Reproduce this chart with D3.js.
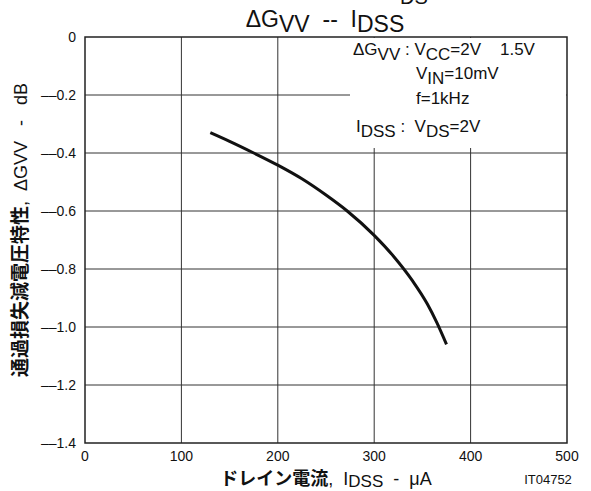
<!DOCTYPE html>
<html>
<head>
<meta charset="utf-8">
<script src="https://cdn.jsdelivr.net/npm/d3@7"></script>
<style>
  body { margin: 0; background: #fff; }
  svg text { font-family: "Liberation Sans", Arial, sans-serif; fill: #111; }
  .jp { font-family: "Noto Sans CJK JP", sans-serif; font-weight: 700; }
</style>
</head>
<body>
<svg id="chart" width="591" height="491"></svg>
<script>
// data
let idss = [130, 150, 175, 200, 225, 250, 272, 300, 320, 340, 355, 365, 375]
let dGvv = [-0.33, -0.36, -0.40, -0.442, -0.489, -0.545, -0.60, -0.684, -0.756, -0.842, -0.92, -0.985, -1.06]
let xTicks = [0, 100, 200, 300, 400, 500]
let yTicks = [0, -0.2, -0.4, -0.6, -0.8, -1.0, -1.2, -1.4]
let yTickLabels = ['0', '––0.2', '––0.4', '––0.6', '––0.8', '––1.0', '––1.2', '––1.4']

let svg = d3.select('#chart')
let pLeft = 85, pRight = 567, pTop = 37, pBottom = 443

let x = d3.scaleLinear().domain([0, 500]).range([pLeft, pRight])
let y = d3.scaleLinear().domain([0, -1.4]).range([pTop, pBottom])

// grid
svg.append('g').selectAll('line').data(xTicks.slice(1, -1)).join('line')
    .attr('x1', d => x(d)).attr('x2', d => x(d))
    .attr('y1', pTop).attr('y2', pBottom)
    .attr('stroke', '#333').attr('stroke-width', 1)
svg.append('g').selectAll('line').data(yTicks.slice(1, -1)).join('line')
    .attr('x1', pLeft).attr('x2', pRight)
    .attr('y1', d => y(d)).attr('y2', d => y(d))
    .attr('stroke', '#333').attr('stroke-width', 1)

// white box behind the conditions
svg.append('rect').attr('x', 350).attr('y', pTop + 1).attr('width', pRight - 351).attr('height', 110).attr('fill', '#fff')

// frame
svg.append('rect').attr('x', pLeft).attr('y', pTop).attr('width', pRight - pLeft).attr('height', pBottom - pTop)
    .attr('fill', 'none').attr('stroke', '#222').attr('stroke-width', 1.5)

// curve
let line = d3.line().x((d, i) => x(idss[i])).y(d => y(d)).curve(d3.curveMonotoneX)
svg.append('path').datum(dGvv).attr('d', line)
    .attr('fill', 'none').attr('stroke', '#111').attr('stroke-width', 3)

// tick labels
svg.append('g').selectAll('text').data(xTicks).join('text')
    .attr('x', d => x(d)).attr('y', 461).attr('text-anchor', 'middle')
    .attr('font-size', 14).text(d => d)
svg.append('g').selectAll('text').data(yTicks).join('text')
    .attr('x', pLeft - 9).attr('y', d => y(d) + 5).attr('text-anchor', 'end')
    .attr('font-size', 14).text((d, i) => yTickLabels[i])

// title
let title = svg.append('text').attr('x', 325).attr('y', 27).attr('text-anchor', 'middle').attr('font-size', 23).attr('xml:space', 'preserve')
title.append('tspan').text('ΔG')
title.append('tspan').attr('dy', 5).text('VV')
title.append('tspan').attr('dy', -5).text('  --  I')
title.append('tspan').attr('dy', 5).text('DSS')
svg.append('text').attr('x', 400).attr('y', 4).attr('font-size', 20).text('DS')

// conditions
function sub(t, parts, size) {
    parts.forEach((p, i) => {
        t.append('tspan').attr('dy', i === 0 ? 0 : (i % 2 ? 5 : -5)).attr('font-size', size).text(p)
    })
}
let c1 = svg.append('text').attr('x', 353).attr('y', 55).attr('xml:space', 'preserve')
sub(c1, ['ΔG', 'VV', ' : V', 'CC', '=2V    1.5V'], 17)
let c2 = svg.append('text').attr('x', 416).attr('y', 79)
sub(c2, ['V', 'IN', '=10mV'], 17)
svg.append('text').attr('x', 416).attr('y', 104).attr('font-size', 17).text('f=1kHz')
let c4 = svg.append('text').attr('x', 356).attr('y', 132).attr('xml:space', 'preserve')
sub(c4, ['I', 'DSS', ' :  V', 'DS', '=2V'], 17)

// y axis title
let yt = svg.append('text').attr('transform', 'translate(27,230) rotate(-90)').attr('text-anchor', 'middle').attr('xml:space', 'preserve')
yt.append('tspan').attr('class', 'jp').attr('font-size', 19).text('通過損失減電圧特性')
yt.append('tspan').attr('font-size', 18).text(',  ΔGVV   -   dB')

// x axis title
let xt = svg.append('text').attr('x', 326).attr('y', 485).attr('text-anchor', 'middle').attr('xml:space', 'preserve')
xt.append('tspan').attr('class', 'jp').attr('font-size', 18).text('ドレイン電流')
xt.append('tspan').attr('font-size', 18).text(',  I')
xt.append('tspan').attr('font-size', 17).attr('dy', 2).text('DSS')
xt.append('tspan').attr('font-size', 18).attr('dy', -2).text('  -  μA')

svg.append('text').attr('x', 548).attr('y', 484).attr('text-anchor', 'middle').attr('font-size', 13).text('IT04752')
</script>
</body>
</html>
